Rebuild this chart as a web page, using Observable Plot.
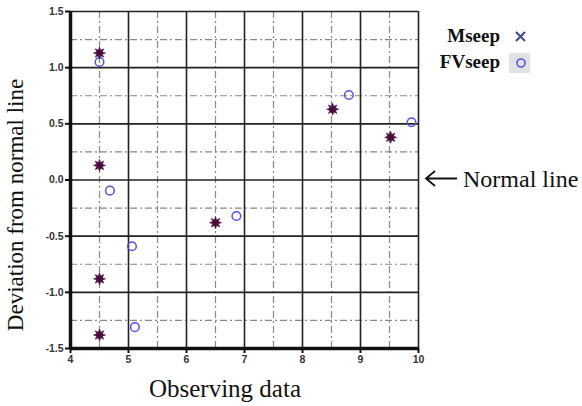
<!DOCTYPE html>
<html><head><meta charset="utf-8">
<script src="https://cdn.jsdelivr.net/npm/d3@7"></script>
<script src="https://cdn.jsdelivr.net/npm/@observablehq/plot@0.6"></script>
<style>body{margin:0;background:#fff}</style>
</head><body><div id="chart"></div>
<script>
const mseepX = [4.5, 4.5, 4.5, 4.5, 6.5, 8.52, 9.52];
const mseepY = [1.13, 0.13, -0.88, -1.38, -0.38, 0.63, 0.38];
const fvseepX = [4.5, 4.68, 5.06, 5.11, 6.86, 8.8, 9.88];
const fvseepY = [1.05, -0.095, -0.59, -1.31, -0.32, 0.757, 0.514];
const xTicks = [4, 5, 6, 7, 8, 9, 10];
const yTicks = [-1.5, -1.0, -0.5, 0.0, 0.5, 1.0, 1.5];
const xMinor = [4.5, 5.5, 6.5, 7.5, 8.5, 9.5];
const yMinor = [-1.25, -0.75, -0.25, 0.25, 0.75, 1.25];
const legendLabels = ["Mseep", "FVseep"];

const mseep = mseepX.map((x, i) => ({x, y: mseepY[i]}));
const fvseep = fvseepX.map((x, i) => ({x, y: fvseepY[i]}));

const star8 = {
  draw(ctx, size) {
    const r = Math.sqrt(size / Math.PI);
    const ri = r * 0.5;
    for (let i = 0; i < 16; i++) {
      const a = i * Math.PI / 8 - Math.PI / 2;
      const rr = i % 2 ? ri : r;
      const px = rr * Math.cos(a), py = rr * Math.sin(a);
      if (i === 0) ctx.moveTo(px, py); else ctx.lineTo(px, py);
    }
    ctx.closePath();
  }
};

const dash = "7,3,2,3";
const plot = Plot.plot({
  width: 582, height: 406,
  marginLeft: 70, marginRight: 164, marginTop: 11, marginBottom: 58,
  x: {type: "linear", domain: [4, 10]},
  y: {type: "linear", domain: [-1.5, 1.5]},
  style: {background: "#fff", overflow: "visible"},
  marks: [
    Plot.ruleX(xMinor, {stroke: "#888", strokeWidth: 1.2, strokeDasharray: dash}),
    Plot.ruleY(yMinor, {stroke: "#888", strokeWidth: 1.2, strokeDasharray: dash}),
    Plot.ruleX(xTicks, {stroke: "#222", strokeWidth: 1.6}),
    Plot.ruleY(yTicks, {stroke: "#222", strokeWidth: 1.6}),
    Plot.ruleX([4], {stroke: "#111", strokeWidth: 3.5}),
    Plot.ruleY([-1.5], {stroke: "#111", strokeWidth: 3.5}),
    Plot.axisX({ticks: xTicks, tickFormat: d => d.toString(), tickSize: 5, tickPadding: 2,
      fontSize: 10.5, fontWeight: "bold", fill: "#333", stroke: "#111", strokeWidth: 2, label: null,
      fontFamily: "Liberation Sans, Arial, sans-serif"}),
    Plot.axisY({ticks: yTicks, tickFormat: d => d.toFixed(1), tickSize: 5, tickPadding: 2,
      fontSize: 10.5, fontWeight: "bold", fill: "#333", stroke: "#111", strokeWidth: 2, label: null,
      fontFamily: "Liberation Sans, Arial, sans-serif"}),
    Plot.dot(fvseep, {x: "x", y: "y", r: 4.3, stroke: "#4f55e0", strokeWidth: 1.5, fill: "none"}),
    Plot.dot(mseep, {x: "x", y: "y", r: 6, symbol: star8, fill: "#4a0c3c", stroke: "#4a0c3c", strokeWidth: 0.6})
  ]
});

const svg = d3.select(plot);
const serif = "Liberation Serif, Times New Roman, serif";
svg.append("text").attr("x", 225).attr("y", 397).attr("text-anchor", "middle")
  .attr("font-family", serif).attr("font-size", 25).attr("fill", "#111")
  .text("Observing data");
svg.append("text").attr("transform", "translate(23,205) rotate(-90)").attr("text-anchor", "middle")
  .attr("font-family", serif).attr("font-size", 23).attr("fill", "#111")
  .text("Deviation from normal line");
const lg = svg.append("g").attr("font-family", serif).attr("font-weight", "bold").attr("font-size", 19).attr("fill", "#111");
lg.append("text").attr("x", 500).attr("y", 42).attr("text-anchor", "end").text(legendLabels[0]);
lg.append("text").attr("x", 500).attr("y", 68).attr("text-anchor", "end").text(legendLabels[1]);
lg.append("path").attr("d", "M516,32L525,41M525,32L516,41").attr("stroke", "#3c4a8a").attr("stroke-width", 2);
lg.append("rect").attr("x", 509).attr("y", 53).attr("width", 21).attr("height", 20).attr("fill", "#e2e2e2");
lg.append("circle").attr("cx", 521).attr("cy", 63).attr("r", 4).attr("fill", "none").attr("stroke", "#4f55e0").attr("stroke-width", 1.6);
svg.append("path").attr("d", "M426,178.5H457M435,171L426,178.5L435,186").attr("fill", "none").attr("stroke", "#111").attr("stroke-width", 1.8);
svg.append("text").attr("x", 463).attr("y", 187).attr("text-anchor", "start").attr("font-family", serif).attr("font-size", 24).attr("fill", "#111").text("Normal line");

document.getElementById("chart").appendChild(plot);
</script>
</body></html>
